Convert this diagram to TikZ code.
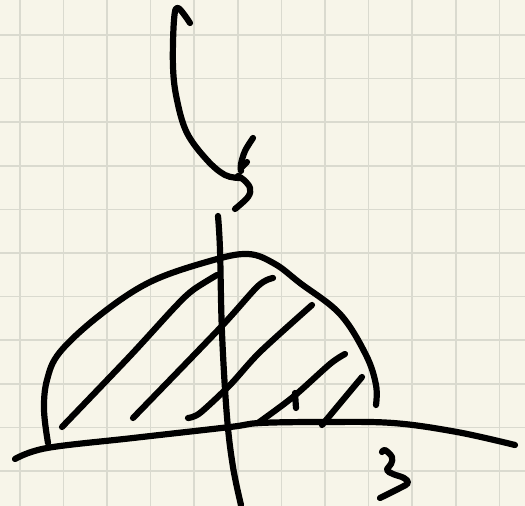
\documentclass[tikz,border=0pt]{standalone}
\definecolor{paper}{HTML}{F7F5E9}
\definecolor{gridc}{HTML}{DADACF}
\begin{document}
\begin{tikzpicture}[x=1pt,y=-1pt,
  ink/.style={line width=6.2pt,line cap=round,line join=round,black},
  gridline/.style={line width=1.2pt,gridc}]
\fill[paper] (0,0) rectangle (525,506);
\useasboundingbox (0,0) rectangle (525,506);
% grid
\foreach \gx in {20,63.5,107,150.5,194,238,281.5,325,368.5,412,456,499.5}
  \draw[gridline] (\gx,0) -- (\gx,506);
\foreach \gy in {35,78.5,122,166,209.5,253,296.5,340,384,427.5,471}
  \draw[gridline] (0,\gy) -- (525,\gy);
% hook arrow
\draw[ink] plot[smooth,tension=0.6] coordinates {(190,23) (178,8) (174,20) (173,67) (177,100) (187,133) (207,160) (225,175) (240,178)};
% squiggle head
\draw[ink] plot[smooth,tension=0.6] coordinates {(253,138) (245,151) (241,164) (241,171)};
\draw[ink] (241,168) -- (247,162);
\draw[ink] plot[smooth,tension=0.6] coordinates {(238,176) (244,180) (250,188) (248,197) (235,209)};
% vertical axis
\draw[ink] plot[smooth,tension=0.6] coordinates {(218,216) (220,250) (222,333) (227,417) (233,467) (241,505)};
% horizontal axis
\draw[ink] plot[smooth,tension=0.6] coordinates {(15,459) (47,448) (133,438) (230,427) (260,423) (323,422) (393,423) (457,432) (515,445)};
% dome
\draw[ink] plot[smooth,tension=0.6] coordinates {(48,443) (44,410) (47,380) (60,352) (100,315) (150,282) (210,261) (248,254) (275,264) (300,283) (340,314) (366,355) (376,385) (376,405)};
% hatching
\draw[ink] plot[smooth,tension=0.5] coordinates {(62,427) (130,356) (175,307) (193,290) (217,275)};
\draw[ink] plot[smooth,tension=0.5] coordinates {(133,418) (220,328) (258,286) (273,278)};
\draw[ink] plot[smooth,tension=0.5] coordinates {(188,418) (200,413) (230,385) (260,352) (312,305)};
\draw[ink] plot[smooth,tension=0.5] coordinates {(258,423) (293,397) (330,364) (345,354)};
\draw[ink] (295,393) -- (296,408);
\draw[ink] (322,425) -- (362,377);
% the "3"
\draw[ink] plot[smooth,tension=0.6] coordinates {(382,452) (385,450) (392,457) (391,464) (387,470) (393,474) (404,478) (408,483) (400,488) (380,498)};
\end{tikzpicture}
\end{document}
